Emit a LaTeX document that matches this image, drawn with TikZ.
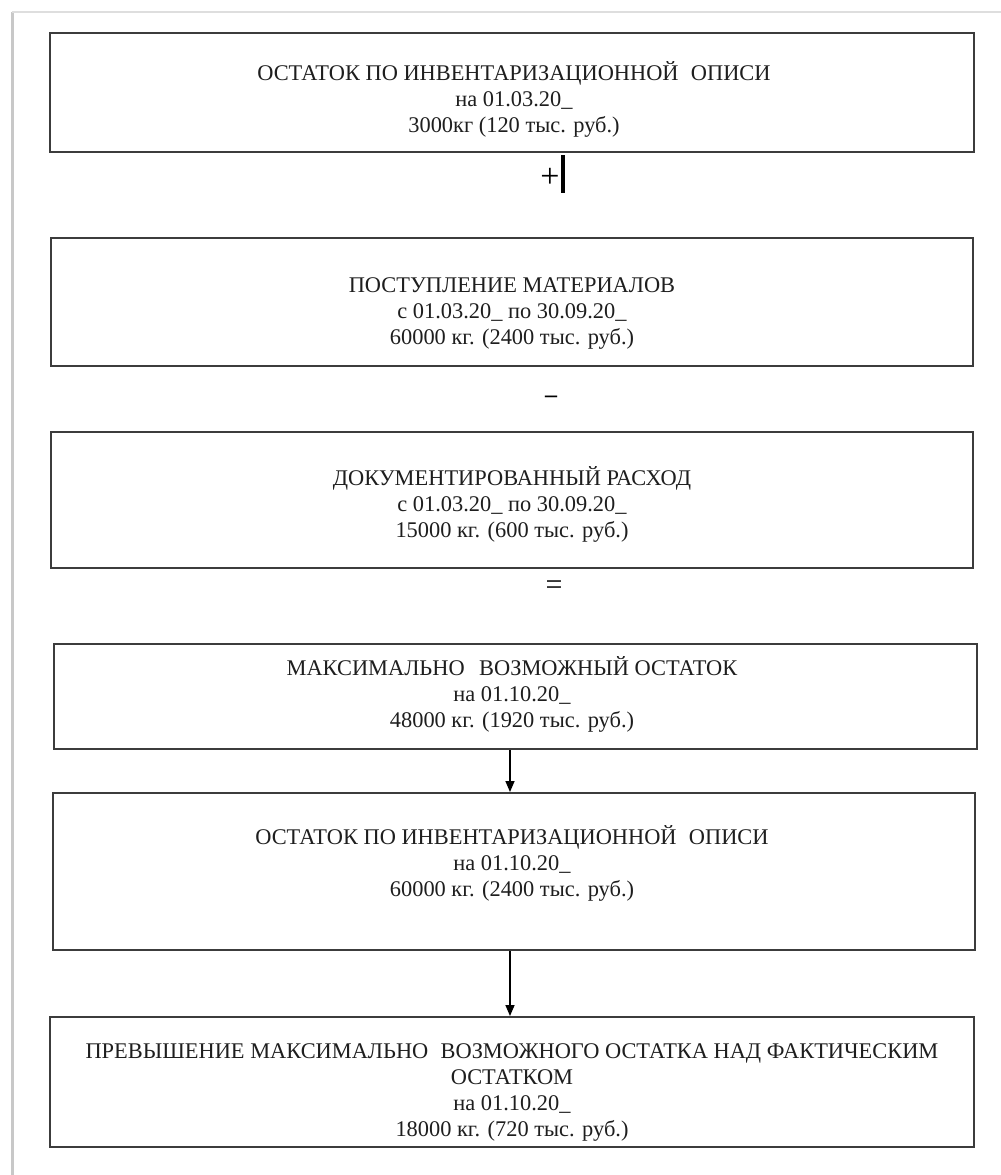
\documentclass[tikz,border=0pt]{standalone}
\usepackage{fontspec}
\setmainfont{Liberation Serif}
\usetikzlibrary{arrows.meta}
\definecolor{boxline}{HTML}{3C3C3C}
\definecolor{txtcol}{HTML}{1E1E1E}
\definecolor{pageedge}{HTML}{C8C8C8}
\begin{document}
\begin{tikzpicture}[x=0.5pt,y=-0.5pt,
  box/.style={draw=boxline, line width=1pt, rectangle, inner sep=0pt, fill=white},
  txt/.style={text=txtcol, align=center, inner sep=0pt, font=\fontsize{11.2pt}{13pt}\selectfont},
  sign/.style={text=black, inner sep=0pt},
  arr/.style={draw=black, line width=0.75pt, -{Triangle[length=5.5pt,width=4.5pt]}}
]
\useasboundingbox (0,0) rectangle (1001,1175);
% page edge
\draw[pageedge, line width=1.5pt] (12,1175) -- (12,12);
\draw[pageedge!60, line width=1pt] (12,12) -- (1001,12);

% boxes
\node[box, minimum width=462pt, minimum height=59.5pt] (b1) at (512,92.5) {};
\node[box, minimum width=461pt, minimum height=64pt] (b2) at (512,302) {};
\node[box, minimum width=461pt, minimum height=68pt] (b3) at (512,500) {};
\node[box, minimum width=461.5pt, minimum height=52.5pt] (b4) at (515.5,696.5) {};
\node[box, minimum width=461pt, minimum height=78.5pt] (b5) at (514,871.5) {};
\node[box, minimum width=462pt, minimum height=65pt] (b6) at (512,1082) {};

% texts
\node[txt] (t1) at (514,99) {ОСТАТОК ПО ИНВЕНТАРИЗАЦИОННОЙ\hspace{0.3em} ОПИСИ\\на 01.03.20\_\\3000кг (120 тыс. руб.)};
\node[txt] (t2) at (512,313) {ПОСТУПЛЕНИЕ МАТЕРИАЛОВ\\с 01.03.20\_ по 30.09.20\_\\60000 кг. (2400 тыс. руб.)};
\node[txt] (t3) at (512,504) {ДОКУМЕНТИРОВАННЫЙ РАСХОД\\с 01.03.20\_ по 30.09.20\_\\15000 кг. (600 тыс. руб.)};
\node[txt] (t4) at (512,694) {МАКСИМАЛЬНО\hspace{0.4em} ВОЗМОЖНЫЙ ОСТАТОК\\на 01.10.20\_\\48000 кг. (1920 тыс. руб.)};
\node[txt] (t5) at (512,863) {ОСТАТОК ПО ИНВЕНТАРИЗАЦИОННОЙ\hspace{0.3em} ОПИСИ\\на 01.10.20\_\\60000 кг. (2400 тыс. руб.)};
\node[txt] (t6) at (512,1092) {ПРЕВЫШЕНИЕ МАКСИМАЛЬНО\hspace{0.3em} ВОЗМОЖНОГО ОСТАТКА НАД ФАКТИЧЕСКИМ\\ОСТАТКОМ\\на 01.10.20\_\\18000 кг. (720 тыс. руб.)};

% signs
\node[sign, font=\fontsize{17pt}{17pt}\selectfont] (plus) at (550,178) {+};
\coordinate (bartop) at (563,155);
\coordinate (barbot) at (563,193);
\draw[black, line width=1.8pt] (bartop) -- (barbot);
\node[sign, font=\fontsize{12pt}{12pt}\selectfont\bfseries] (minus) at (551,399) {–};
\node[sign, font=\fontsize{15pt}{15pt}\selectfont] (eq) at (554,588) {=};

% arrows
\draw[arr] (b4.south -| 510,0) -- (b5.north -| 510,0);
\draw[arr] (b5.south -| 510,0) -- (b6.north -| 510,0);
\end{tikzpicture}
\end{document}
